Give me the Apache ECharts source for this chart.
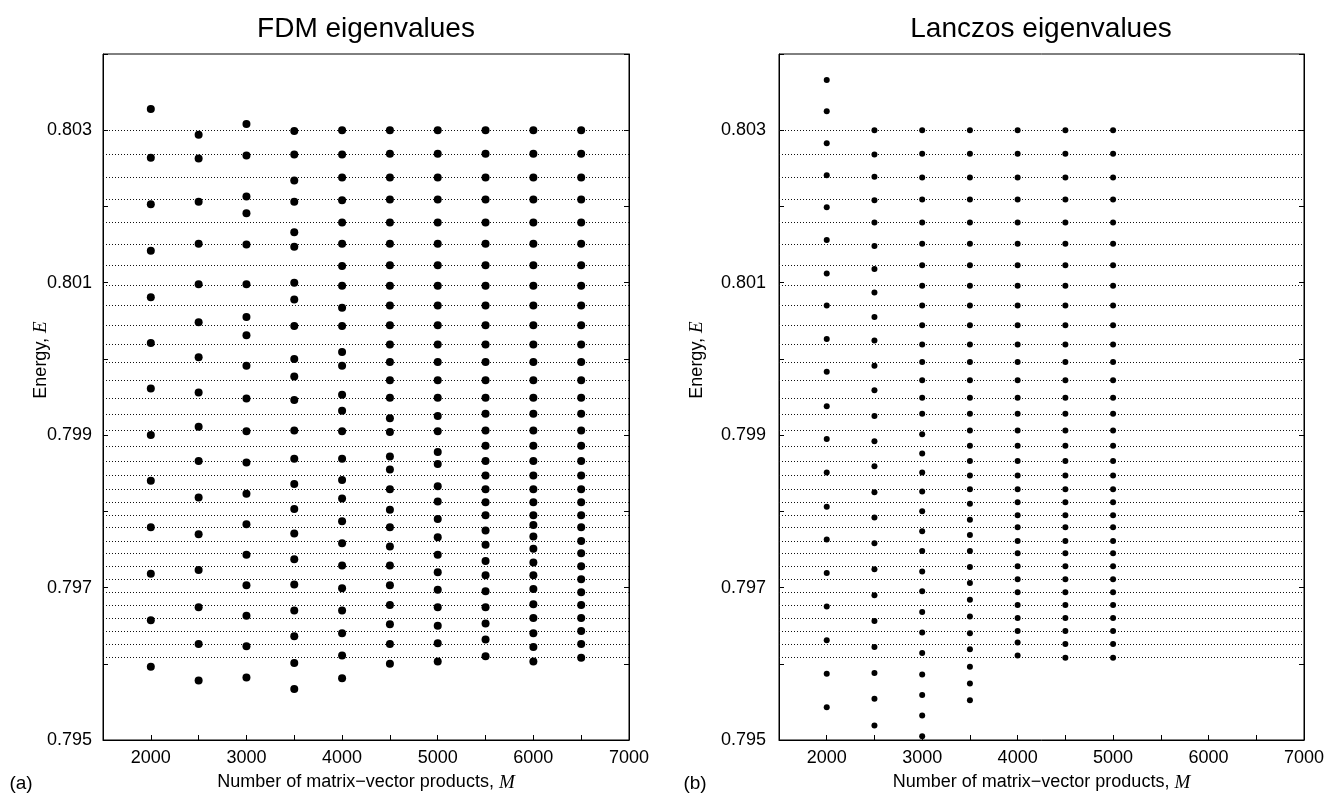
<!DOCTYPE html>
<html>
<head>
<meta charset="utf-8">
<script src="https://cdn.jsdelivr.net/npm/echarts@6/dist/echarts.min.js"></script>
<style>
html,body{margin:0;padding:0;background:#fff;}
#chart{width:1341px;height:797px;}
</style>
</head>
<body>
<div id="chart"></div>
<script>
// ---------- DATA ----------
const panelTitles = ['FDM eigenvalues', 'Lanczos eigenvalues'];
const panelTags = ['(a)', '(b)'];
const xTickLabels = ['2000', '3000', '4000', '5000', '6000', '7000'];
const yTickLabels = ['0.795', '0.797', '0.799', '0.801', '0.803'];

// exact eigenvalues (dotted reference lines)
const exactLevels = [0.80300, 0.80269, 0.80238, 0.80209, 0.80179, 0.80151, 0.80123, 0.80096, 0.80070, 0.80044,
  0.80019, 0.79996, 0.79972, 0.79949, 0.79928, 0.79906, 0.79886, 0.79866, 0.79847, 0.79829,
  0.79812, 0.79795, 0.79779, 0.79761, 0.79745, 0.79728, 0.79711, 0.79694, 0.79677, 0.79660,
  0.79643, 0.79626, 0.79608];

// FDM eigenvalues by M
const fdmM = [2000, 2500, 3000, 3500, 4000, 4500, 5000, 5500, 6000, 6500];
const fdm2000 = [0.80328, 0.80264, 0.80203, 0.80142, 0.80081, 0.80021, 0.79961, 0.79900, 0.79840, 0.79779, 0.79718, 0.79657, 0.79596];
const fdm2500 = [0.80294, 0.80263, 0.80206, 0.80151, 0.80098, 0.80048, 0.80002, 0.79956, 0.79911, 0.79866, 0.79818, 0.79770, 0.79723, 0.79674, 0.79626, 0.79578];
const fdm3000 = [0.80308, 0.80267, 0.80213, 0.80191, 0.80150, 0.80098, 0.80055, 0.80031, 0.79991, 0.79948, 0.79905, 0.79864, 0.79823, 0.79783, 0.79743, 0.79703, 0.79663, 0.79623, 0.79582];
const fdm3500 = [0.80299, 0.80268, 0.80234, 0.80206, 0.80166, 0.80147, 0.80100, 0.80078, 0.80043, 0.80000, 0.79977, 0.79946, 0.79906, 0.79869, 0.79836, 0.79803, 0.79771, 0.79737, 0.79704, 0.79670, 0.79636, 0.79601, 0.79567];
const fdm4000 = [0.80300, 0.80268, 0.80238, 0.80208, 0.80179, 0.80151, 0.80122, 0.80096, 0.80067, 0.80043, 0.80009, 0.79991, 0.79953, 0.79932, 0.79905, 0.79869, 0.79841, 0.79817, 0.79787, 0.79758, 0.79729, 0.79699, 0.79670, 0.79640, 0.79611, 0.79581];
const fdm4500 = [0.80300, 0.80269, 0.80238, 0.80209, 0.80179, 0.80151, 0.80123, 0.80096, 0.80070, 0.80044, 0.80019, 0.79996, 0.79972, 0.79949,
  0.79922, 0.79904, 0.79872, 0.79855, 0.79829, 0.79802, 0.79779, 0.79754, 0.79729, 0.79703, 0.79677, 0.79652, 0.79626, 0.79600];
const fdm5000 = [0.80300, 0.80269, 0.80238, 0.80209, 0.80179, 0.80151, 0.80123, 0.80096, 0.80070, 0.80044, 0.80019, 0.79996, 0.79972, 0.79949,
  0.79925, 0.79905, 0.79878, 0.79862, 0.79833, 0.79813, 0.79790, 0.79766, 0.79743, 0.79720, 0.79697, 0.79674, 0.79650, 0.79627, 0.79603];
const fdm5500 = [0.80300, 0.80269, 0.80238, 0.80209, 0.80179, 0.80151, 0.80123, 0.80096, 0.80070, 0.80044, 0.80019, 0.79996, 0.79972, 0.79949,
  0.79928, 0.79906, 0.79886, 0.79866, 0.79847, 0.79829, 0.79812, 0.79795,
  0.79775, 0.79756, 0.79735, 0.79716, 0.79695, 0.79674, 0.79653, 0.79632, 0.79610];
const fdm6000 = [0.80300, 0.80269, 0.80238, 0.80209, 0.80179, 0.80151, 0.80123, 0.80096, 0.80070, 0.80044, 0.80019, 0.79996, 0.79972, 0.79949,
  0.79928, 0.79906, 0.79886, 0.79866, 0.79847, 0.79829, 0.79812, 0.79795,
  0.79782, 0.79767, 0.79751, 0.79733, 0.79716, 0.79698, 0.79678, 0.79660, 0.79640, 0.79622, 0.79603];
const fdm6500 = [0.80300, 0.80269, 0.80238, 0.80209, 0.80179, 0.80151, 0.80123, 0.80096, 0.80070, 0.80044, 0.80019, 0.79996, 0.79972, 0.79949,
  0.79928, 0.79906, 0.79886, 0.79866, 0.79847, 0.79829, 0.79812, 0.79795, 0.79779, 0.79761, 0.79745, 0.79728, 0.79711, 0.79694,
  0.79677, 0.79660, 0.79643, 0.79626, 0.79608];

// Lanczos eigenvalues by M
const lanczosM = [2000, 2500, 3000, 3500, 4000, 4500, 5000];
const lz2000 = [0.80366, 0.80325, 0.80283, 0.80241, 0.80199, 0.80156, 0.80112, 0.80070, 0.80026, 0.79983, 0.79938, 0.79895, 0.79851, 0.79806, 0.79763, 0.79719, 0.79675, 0.79631, 0.79587, 0.79543];
const lz2500 = [0.80300, 0.80268, 0.80239, 0.80208, 0.80179, 0.80148, 0.80118, 0.80087, 0.80055, 0.80024, 0.79991, 0.79959, 0.79925, 0.79892, 0.79859, 0.79825, 0.79792, 0.79758, 0.79724, 0.79690, 0.79656, 0.79622, 0.79588, 0.79554, 0.79519];
const lz3000 = [0.80300, 0.80269, 0.80238, 0.80209, 0.80179, 0.80151, 0.80123, 0.80096, 0.80070, 0.80044, 0.80019, 0.79996, 0.79972, 0.79949, 0.79928,
  0.79901, 0.79876, 0.79851, 0.79826, 0.79800, 0.79774, 0.79748, 0.79721, 0.79695, 0.79668, 0.79641, 0.79614, 0.79586, 0.79559, 0.79532, 0.79505];
const lz3500 = [0.80300, 0.80269, 0.80238, 0.80209, 0.80179, 0.80151, 0.80123, 0.80096, 0.80070, 0.80044, 0.80019, 0.79996, 0.79972, 0.79949,
  0.79928, 0.79906, 0.79886, 0.79866, 0.79847, 0.79829,
  0.79810, 0.79789, 0.79769, 0.79748, 0.79727, 0.79706, 0.79684, 0.79662, 0.79640, 0.79619, 0.79596, 0.79574, 0.79552];
const lz4000 = [0.80300, 0.80269, 0.80238, 0.80209, 0.80179, 0.80151, 0.80123, 0.80096, 0.80070, 0.80044, 0.80019, 0.79996, 0.79972, 0.79949,
  0.79928, 0.79906, 0.79886, 0.79866, 0.79847, 0.79829, 0.79812, 0.79795, 0.79779, 0.79761, 0.79745, 0.79728, 0.79711, 0.79694,
  0.79677, 0.79660, 0.79643, 0.79628, 0.79611];
const lz4500 = [0.80300, 0.80269, 0.80238, 0.80209, 0.80179, 0.80151, 0.80123, 0.80096, 0.80070, 0.80044, 0.80019, 0.79996, 0.79972, 0.79949,
  0.79928, 0.79906, 0.79886, 0.79866, 0.79847, 0.79829, 0.79812, 0.79795, 0.79779, 0.79761, 0.79745, 0.79728, 0.79711, 0.79694,
  0.79677, 0.79660, 0.79643, 0.79626, 0.79608];
const lz5000 = [0.80300, 0.80269, 0.80238, 0.80209, 0.80179, 0.80151, 0.80123, 0.80096, 0.80070, 0.80044, 0.80019, 0.79996, 0.79972, 0.79949,
  0.79928, 0.79906, 0.79886, 0.79866, 0.79847, 0.79829, 0.79812, 0.79795, 0.79779, 0.79761, 0.79745, 0.79728, 0.79711, 0.79694,
  0.79677, 0.79660, 0.79643, 0.79626, 0.79608];

// ---------- BUILD ----------
const fdmCols = [fdm2000, fdm2500, fdm3000, fdm3500, fdm4000, fdm4500, fdm5000, fdm5500, fdm6000, fdm6500];
const lzCols = [lz2000, lz2500, lz3000, lz3500, lz4000, lz4500, lz5000];
const toPoints = (ms, cols) => ms.flatMap((m, i) => cols[i].map(v => [m, v]));

const SANS = '"Liberation Sans", Arial, Helvetica, sans-serif';
const SERIF = '"Liberation Serif", "Times New Roman", serif';

const grids = [
  {left: 103, top: 54, width: 526, height: 691},
  {left: 779, top: 54, width: 525, height: 691}
];

function xAxisFor(i) {
  return {
    type: 'value', gridIndex: i, min: 1500, max: 7000, interval: 500,
    axisLine: {show: true, lineStyle: {color: '#000', width: 1}},
    axisTick: {show: true, inside: true, length: 5, lineStyle: {color: '#000'}},
    splitLine: {show: false},
    axisLabel: {
      margin: 9, color: '#000', fontFamily: SANS, fontSize: 18,
      formatter: v => (xTickLabels.includes(String(v)) ? String(v) : '')
    },
    name: '{n|Number of matrix\u2212vector products, }{i|M}',
    nameLocation: 'middle', nameGap: 33,
    nameTextStyle: {
      rich: {
        n: {fontFamily: SANS, fontSize: 18, color: '#000'},
        i: {fontFamily: SERIF, fontStyle: 'italic', fontSize: 19, color: '#000'}
      }
    }
  };
}
function yAxisFor(i, side) {
  const labels = side === 'left';
  return {
    type: 'value', gridIndex: i, position: side, min: 0.795, max: 0.804, interval: 0.001,
    axisLine: {show: true, onZero: false, lineStyle: {color: '#000', width: 1}},
    axisTick: {show: true, inside: true, length: 5, lineStyle: {color: '#000'}},
    splitLine: {show: false},
    axisLabel: {
      show: labels, margin: i === 0 ? 11 : 13, color: '#000', fontFamily: SANS, fontSize: 18,
      formatter: v => { const s = v.toFixed(3); return yTickLabels.includes(s) ? s : ''; }
    }
  };
}

function levelMarkLine() {
  return {
    silent: true, symbol: ['none', 'none'], label: {show: false}, animation: false,
    precision: 6,
    lineStyle: {type: [1, 2], color: '#111', width: 1},
    emphasis: {disabled: true},
    data: exactLevels.map(v => ({yAxis: v}))
  };
}

const option = {
  animation: false,
  backgroundColor: '#fff',
  grid: grids.map(g => Object.assign({show: true, borderColor: '#000', borderWidth: 1, backgroundColor: 'transparent'}, g)),
  xAxis: [xAxisFor(0), xAxisFor(1)],
  yAxis: [yAxisFor(0, 'left'), yAxisFor(0, 'right'), yAxisFor(1, 'left'), yAxisFor(1, 'right')],
  series: [
    {
      type: 'scatter', xAxisIndex: 0, yAxisIndex: 0, symbol: 'circle', symbolSize: 8,
      itemStyle: {color: '#000', opacity: 1}, data: toPoints(fdmM, fdmCols), z: 5,
      markLine: levelMarkLine()
    },
    {
      type: 'scatter', xAxisIndex: 1, yAxisIndex: 2, symbol: 'circle', symbolSize: 6,
      itemStyle: {color: '#000', opacity: 1}, data: toPoints(lanczosM, lzCols), z: 5,
      markLine: levelMarkLine()
    }
  ],
  graphic: [
    {type: 'text', x: 366, y: 29, style: {text: panelTitles[0], font: '28px ' + SANS, fill: '#000', align: 'center', verticalAlign: 'middle'}},
    {type: 'text', x: 1041, y: 29, style: {text: panelTitles[1], font: '28px ' + SANS, fill: '#000', align: 'center', verticalAlign: 'middle'}},
    {type: 'text', x: 21, y: 784, style: {text: panelTags[0], font: '19px ' + SANS, fill: '#000', align: 'center', verticalAlign: 'middle'}},
    {type: 'text', x: 695, y: 784, style: {text: panelTags[1], font: '19px ' + SANS, fill: '#000', align: 'center', verticalAlign: 'middle'}},
    {type: 'text', x: 41, y: 360, rotation: Math.PI / 2,
      style: {text: '{n|Energy, }{i|E}', align: 'center', verticalAlign: 'middle',
        rich: {n: {fontFamily: SANS, fontSize: 18, fill: '#000'}, i: {fontFamily: SERIF, fontStyle: 'italic', fontSize: 19, fill: '#000'}}}},
    {type: 'text', x: 697, y: 360, rotation: Math.PI / 2,
      style: {text: '{n|Energy, }{i|E}', align: 'center', verticalAlign: 'middle',
        rich: {n: {fontFamily: SANS, fontSize: 18, fill: '#000'}, i: {fontFamily: SERIF, fontStyle: 'italic', fontSize: 19, fill: '#000'}}}}
  ]
};

const chart = echarts.init(document.getElementById('chart'), null, {renderer: 'canvas'});
chart.setOption(option);
</script>
</body>
</html>
